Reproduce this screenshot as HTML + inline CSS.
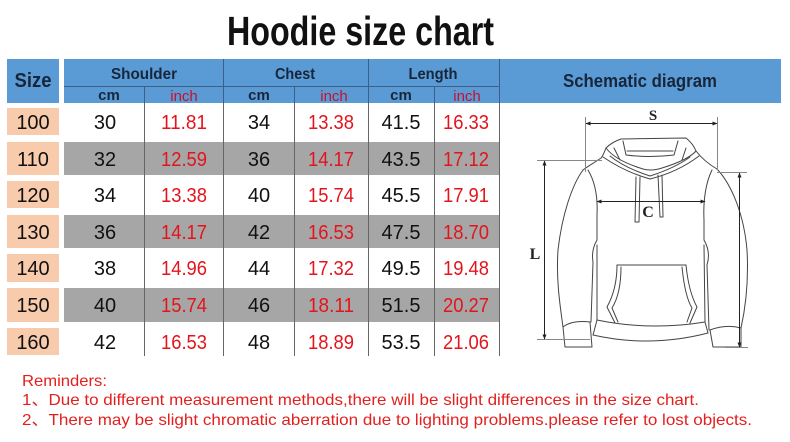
<!DOCTYPE html>
<html><head><meta charset="utf-8"><style>
html,body{margin:0;padding:0;background:#fff;}
svg{display:block;}
</style></head><body>
<svg width="790" height="442" viewBox="0 0 790 442" xmlns="http://www.w3.org/2000/svg">
<defs>
<marker id="ah" viewBox="0 0 10 10" refX="9" refY="5" markerWidth="5" markerHeight="5" orient="auto-start-reverse">
<path d="M0,1 L10,5 L0,9 Z" fill="#222"/>
</marker>
</defs>
<rect width="790" height="442" fill="#fff"/>
<!-- Title -->
<text x="227" y="45" font-family="Liberation Sans, sans-serif" font-weight="bold" font-size="41" fill="#111" textLength="267" lengthAdjust="spacingAndGlyphs">Hoodie size chart</text>

<!-- Header -->
<rect x="7" y="59" width="52" height="44" fill="#5b9bd5"/>
<rect x="64" y="59" width="717" height="44" fill="#5b9bd5"/>
<g stroke="#3d5f86" stroke-width="1">
<line x1="64" y1="86.5" x2="499" y2="86.5"/>
<line x1="223.5" y1="59" x2="223.5" y2="103"/>
<line x1="368.5" y1="59" x2="368.5" y2="103"/>
<line x1="144.5" y1="86" x2="144.5" y2="103"/>
<line x1="294.5" y1="86" x2="294.5" y2="103"/>
<line x1="434.5" y1="86" x2="434.5" y2="103"/>
<line x1="499.5" y1="59" x2="499.5" y2="103"/>
</g>
<g font-family="Liberation Sans, sans-serif" fill="#17263a" text-anchor="middle">
<text x="33" y="87" font-size="20" font-weight="bold" textLength="37" lengthAdjust="spacingAndGlyphs">Size</text>
<text x="144" y="79" font-size="16" font-weight="bold" textLength="66" lengthAdjust="spacingAndGlyphs">Shoulder</text>
<text x="295" y="79" font-size="16" font-weight="bold" textLength="40" lengthAdjust="spacingAndGlyphs">Chest</text>
<text x="433" y="79" font-size="16" font-weight="bold" textLength="49" lengthAdjust="spacingAndGlyphs">Length</text>
<text x="640" y="87" font-size="18" font-weight="bold" textLength="154" lengthAdjust="spacingAndGlyphs">Schematic diagram</text>
<text x="109" y="100" font-size="15" font-weight="bold">cm</text>
<text x="259" y="100" font-size="15" font-weight="bold">cm</text>
<text x="401" y="100" font-size="15" font-weight="bold">cm</text>
</g>
<g font-family="Liberation Sans, sans-serif" fill="#c8102e" text-anchor="middle" font-size="15">
<text x="184" y="101">inch</text>
<text x="334" y="101">inch</text>
<text x="467" y="101">inch</text>
</g>

<!-- Body rows -->
<g fill="#f8cbad">
<rect x="7" y="108" width="52" height="27"/>
<rect x="7" y="142" width="52" height="33"/>
<rect x="7" y="181" width="52" height="27"/>
<rect x="7" y="215" width="52" height="33"/>
<rect x="7" y="254" width="52" height="28"/>
<rect x="7" y="288" width="52" height="34"/>
<rect x="7" y="328" width="52" height="27"/>
</g>
<g fill="#a6a6a6">
<rect x="64" y="142" width="435" height="33"/>
<rect x="64" y="215" width="435" height="33"/>
<rect x="64" y="288" width="435" height="34"/>
</g>
<g stroke="#666" stroke-width="1">
<line x1="144.5" y1="103" x2="144.5" y2="356"/>
<line x1="223.5" y1="103" x2="223.5" y2="356"/>
<line x1="294.5" y1="103" x2="294.5" y2="356"/>
<line x1="368.5" y1="103" x2="368.5" y2="356"/>
<line x1="434.5" y1="103" x2="434.5" y2="356"/>
<line x1="499.5" y1="103" x2="499.5" y2="356"/>
</g>

<g font-family="Liberation Sans, sans-serif" font-size="20" text-anchor="middle" fill="#111">
<text x="33" y="129">100</text>
<text x="33" y="166">110</text>
<text x="33" y="202">120</text>
<text x="33" y="239">130</text>
<text x="33" y="275">140</text>
<text x="33" y="312">150</text>
<text x="33" y="349">160</text>

<text x="105" y="129">30</text>
<text x="105" y="166">32</text>
<text x="105" y="202">34</text>
<text x="105" y="239">36</text>
<text x="105" y="275">38</text>
<text x="105" y="312">40</text>
<text x="105" y="349">42</text>

<text x="259" y="129">34</text>
<text x="259" y="166">36</text>
<text x="259" y="202">40</text>
<text x="259" y="239">42</text>
<text x="259" y="275">44</text>
<text x="259" y="312">46</text>
<text x="259" y="349">48</text>

<text x="401" y="129">41.5</text>
<text x="401" y="166">43.5</text>
<text x="401" y="202">45.5</text>
<text x="401" y="239">47.5</text>
<text x="401" y="275">49.5</text>
<text x="401" y="312">51.5</text>
<text x="401" y="349">53.5</text>
</g>
<g font-family="Liberation Sans, sans-serif" font-size="20" text-anchor="middle" fill="#e3141c">
<text x="184" y="129" textLength="46" lengthAdjust="spacingAndGlyphs">11.81</text>
<text x="184" y="166" textLength="46" lengthAdjust="spacingAndGlyphs">12.59</text>
<text x="184" y="202" textLength="46" lengthAdjust="spacingAndGlyphs">13.38</text>
<text x="184" y="239" textLength="46" lengthAdjust="spacingAndGlyphs">14.17</text>
<text x="184" y="275" textLength="46" lengthAdjust="spacingAndGlyphs">14.96</text>
<text x="184" y="312" textLength="46" lengthAdjust="spacingAndGlyphs">15.74</text>
<text x="184" y="349" textLength="46" lengthAdjust="spacingAndGlyphs">16.53</text>

<text x="331" y="129" textLength="46" lengthAdjust="spacingAndGlyphs">13.38</text>
<text x="331" y="166" textLength="46" lengthAdjust="spacingAndGlyphs">14.17</text>
<text x="331" y="202" textLength="46" lengthAdjust="spacingAndGlyphs">15.74</text>
<text x="331" y="239" textLength="46" lengthAdjust="spacingAndGlyphs">16.53</text>
<text x="331" y="275" textLength="46" lengthAdjust="spacingAndGlyphs">17.32</text>
<text x="331" y="312" textLength="46" lengthAdjust="spacingAndGlyphs">18.11</text>
<text x="331" y="349" textLength="46" lengthAdjust="spacingAndGlyphs">18.89</text>

<text x="466" y="129" textLength="46" lengthAdjust="spacingAndGlyphs">16.33</text>
<text x="466" y="166" textLength="46" lengthAdjust="spacingAndGlyphs">17.12</text>
<text x="466" y="202" textLength="46" lengthAdjust="spacingAndGlyphs">17.91</text>
<text x="466" y="239" textLength="46" lengthAdjust="spacingAndGlyphs">18.70</text>
<text x="466" y="275" textLength="46" lengthAdjust="spacingAndGlyphs">19.48</text>
<text x="466" y="312" textLength="46" lengthAdjust="spacingAndGlyphs">20.27</text>
<text x="466" y="349" textLength="46" lengthAdjust="spacingAndGlyphs">21.06</text>
</g>

<!-- Hoodie drawing -->
<g fill="none" stroke="#444" stroke-width="1" stroke-linejoin="round" stroke-linecap="round">
<!-- hood -->
<path d="M606,148 C610,144 615,141 621,139 L686,138 C691,142 694,146 696,151"/>
<path d="M623,141 L626,155 Q650,158 674,155 L678,141"/>
<path d="M627,151 L673,151"/>
<path d="M606,148 Q615,160 640,168 Q650,172 662,168 Q688,160 696,151"/>
<path d="M610,156 Q625,168 650,176 Q675,168 690,157"/>
<path d="M603,157 Q625,172 650,179 Q678,172 699,156"/>
<path d="M614,148 L620,160 M686,148 L682,160"/>
<!-- shoulders -->
<path d="M696,151 C703,160 710,165 717,169"/>
<path d="M606,148 C604,153 603,156 601,158 C594,163 588,166 583,170"/>
<!-- drawstrings -->
<path d="M636,177 L635,222 L639,222 L640,177"/>
<path d="M658,175 L660,217 L663,217 L662,175"/>
<!-- left sleeve -->
<path d="M583,170 C572,185 562,215 558,250 C556,280 560,305 563,327 L565,347 L592,347 L590,322 Q572,320 563,327"/>
<path d="M588,170 C594,180 598,195 597,215 L597,240 Q591,250 593,262 L591,322"/>
<path d="M597,245 L597,320"/>
<!-- right sleeve -->
<path d="M717,169 C732,185 744,215 747,250 C749,285 745,310 741,328 L741,347 L713,347 L710,330 Q726,324 741,328"/>
<path d="M712,170 C706,182 703,200 704,220 L704,240 Q711,252 707,265 L709,330"/>
<path d="M704,245 L705,322"/>
<!-- waistband -->
<path d="M597,320 Q650,331 705,322"/>
<path d="M593,335 Q650,348 708,333"/>
<path d="M597,320 L593,335 M705,322 L708,333"/>
<!-- pocket -->
<path d="M617,265 L686,265"/>
<path d="M617,265 C617,285 612,298 607,307 L615,323"/>
<path d="M686,265 C688,285 692,298 697,307 L690,323"/>
<path d="M621,267 C621,287 617,300 612,308 L618,322"/>
<path d="M682,267 C684,287 687,300 692,308 L687,322"/>
</g>
<!-- extension lines -->
<g stroke="#888" stroke-width="1">
<line x1="585.5" y1="117" x2="585.5" y2="172"/>
<line x1="717.5" y1="117" x2="717.5" y2="170"/>
<line x1="537" y1="160.5" x2="602" y2="160.5"/>
<line x1="537" y1="339.5" x2="590" y2="339.5"/>
<line x1="717" y1="172.5" x2="747" y2="172.5"/>
<line x1="725" y1="347.5" x2="748" y2="347.5"/>
</g>
<!-- measurement arrows -->
<g stroke="#222" stroke-width="1">
<line x1="586" y1="123.5" x2="717" y2="123.5" marker-start="url(#ah)" marker-end="url(#ah)"/>
<line x1="544.5" y1="161" x2="544.5" y2="339" marker-start="url(#ah)" marker-end="url(#ah)"/>
<line x1="739.5" y1="173" x2="739.5" y2="347" marker-start="url(#ah)" marker-end="url(#ah)"/>
<line x1="597" y1="201.5" x2="705" y2="201.5" marker-start="url(#ah)" marker-end="url(#ah)"/>
</g>
<g font-family="Liberation Serif, serif" font-weight="bold" fill="#222" text-anchor="middle">
<text x="653" y="120" font-size="15">S</text>
<text x="648" y="217" font-size="16">C</text>
<text x="535" y="259" font-size="16">L</text>
</g>

<!-- Reminders -->
<g font-family="Liberation Sans, 'Noto Sans CJK SC', sans-serif" font-size="16" fill="#e3201f">
<text x="22" y="386" textLength="85" lengthAdjust="spacingAndGlyphs">Reminders:</text>
<text x="22" y="405" textLength="677" lengthAdjust="spacingAndGlyphs">1、Due to different measurement methods,there will be slight differences in the size chart.</text>
<text x="22" y="425" textLength="730" lengthAdjust="spacingAndGlyphs">2、There may be slight chromatic aberration due to lighting problems.please refer to lost objects.</text>
</g>
</svg>
</body></html>
